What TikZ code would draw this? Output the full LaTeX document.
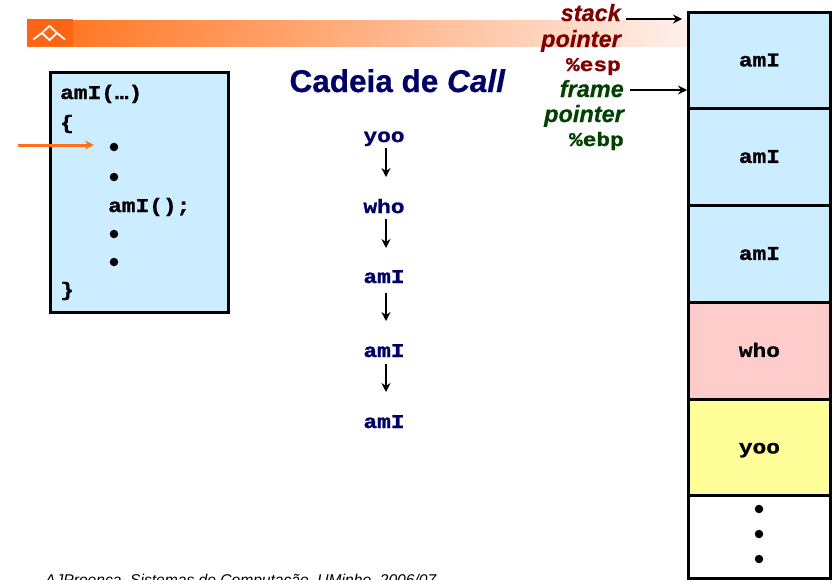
\documentclass[tikz,border=0pt]{standalone}
\usepackage{fontspec}
\setmainfont[BoldFeatures={FakeBold=0.6},BoldItalicFeatures={FakeBold=0.6}]{Liberation Sans}
\setmonofont[BoldFeatures={FakeStretch=1.17,FakeBold=1.2}]{Liberation Mono}
\usepackage{tikz}
\usetikzlibrary{arrows.meta}
\definecolor{boxblue}{RGB}{204,236,255}
\definecolor{boxpink}{RGB}{255,204,204}
\definecolor{boxyellow}{RGB}{255,255,153}
\definecolor{navytext}{RGB}{0,0,102}
\definecolor{sptext}{RGB}{128,0,0}
\definecolor{fptext}{RGB}{0,64,0}
\definecolor{bannerorange}{RGB}{255,112,24}
\definecolor{bannermid}{RGB}{255,165,130}
\definecolor{bannerend}{RGB}{255,240,236}
\definecolor{logoorange}{RGB}{253,100,20}
\tikzset{x=1pt,y=-1pt}
\tikzstyle{frame} = [draw=black,line width=2.8pt,minimum width=142pt,anchor=north west,inner sep=0pt,text height=12pt,text depth=0pt,font=\ttfamily\bfseries\fontsize{19.5}{19.5}\selectfont]
\tikzstyle{code} = [anchor=base west,inner sep=0pt,font=\ttfamily\bfseries\fontsize{19.5}{19.5}\selectfont]
\tikzstyle{call} = [inner sep=0pt,text=navytext,text height=12pt,text depth=0pt,font=\ttfamily\bfseries\fontsize{19.5}{19.5}\selectfont]
\tikzstyle{bullet} = [circle,fill=black,inner sep=0pt,minimum size=8.5pt]
\tikzstyle{regname} = [anchor=base east,inner sep=0pt,font=\bfseries\itshape\fontsize{23.5}{23.5}\selectfont]
\tikzstyle{regcode} = [anchor=base east,inner sep=0pt,font=\ttfamily\bfseries\fontsize{19.5}{19.5}\selectfont]
\tikzstyle{arrow} = [line width=2.2pt,-{Stealth[length=9pt,width=9pt]},black]

\begin{document}
\begin{tikzpicture}
\useasboundingbox (0,0) rectangle (834,579);
\clip (0,0) rectangle (834,579);

% banner
\fill[left color=bannerorange,middle color=bannermid,right color=bannerend] (27,20) rectangle (690,46);
\fill[logoorange] (27,19) rectangle (73,46);
\draw[white,line width=1.8pt] (33.3,39.5) -- (42,33) -- (49.5,26) -- (57,33) -- (65,39.5);
\draw[white,line width=1.8pt] (42,33) -- (49.5,40) -- (57,33);

% stack
\node[frame,fill=boxblue,minimum height=96pt] (frameA) at (687,11) {amI};
\node[frame,fill=boxblue,minimum height=97pt] (frameB) at (687,107) {amI};
\node[frame,fill=boxblue,minimum height=97pt] (frameC) at (687,204) {amI};
\node[frame,fill=boxpink,minimum height=97pt] (frameD) at (687,301) {who};
\node[frame,fill=boxyellow,minimum height=96pt] (frameE) at (687,398) {yoo};
\node[frame,fill=white,minimum height=83pt] (frameF) at (687,494) {};
\node[bullet] (stackdotA) at (759,509) {};
\node[bullet] (stackdotB) at (759,534) {};
\node[bullet] (stackdotC) at (759,559) {};

% registers
\node[regname,text=sptext] (sp) at (621,21) {stack};
\node[regname,text=sptext] at (621,47) {pointer};
\node[regcode,text=sptext] at (621,71) {\%esp};
\node[regname,text=fptext] (fp) at (624,97) {frame};
\node[regname,text=fptext] at (624,122) {pointer};
\node[regcode,text=fptext] at (624,146) {\%ebp};
\coordinate (spend) at (682,19);
\coordinate (fpend) at (687,90);
\draw[arrow] (626,19) -- (spend);
\draw[arrow] (630,90) -- (fpend);

% code box
\node[draw=black,line width=2.8pt,fill=boxblue,minimum width=178pt,minimum height=240pt,anchor=north west,inner sep=0pt] (codebox) at (49,71) {};
\node[code] (linehead) at (60,99) {amI(…)};
\node[code] (lineopen) at (60,129) {\{};
\node[bullet] (dotA) at (114,147) {};
\node[bullet] (dotB) at (114,177) {};
\node[code] (linecall) at (108,212) {amI();};
\node[bullet] (dotC) at (114,234) {};
\node[bullet] (dotD) at (114,262) {};
\node[code] (lineclose) at (60,296) {\}};
\coordinate (pcstart) at (18,145);
\coordinate (pcend) at (94,145);
\draw[bannerorange,line width=3pt,-{Stealth[length=9pt,width=9pt]}] (pcstart) -- (pcend);

% call chain
\node[anchor=base,inner sep=0pt,text=navytext,font=\bfseries\fontsize{31.5}{31.5}\selectfont] (title) at (397.5,92) {Cadeia de \textit{Call}};
\node[call] (yoo) at (384,136) {yoo};
\node[call] (who) at (384,207) {who};
\node[call] (amIa) at (384,277) {amI};
\node[call] (amIb) at (384,351) {amI};
\node[call] (amIc) at (384,422) {amI};
\draw[arrow] (386,148) -- (386,177);
\draw[arrow] (386,219) -- (386,248);
\draw[arrow] (386,293) -- (386,321);
\draw[arrow] (386,364) -- (386,392);

% footer
\node[anchor=base west,inner sep=0pt,font=\itshape\fontsize{15.6}{15.6}\selectfont] (footer) at (45,585) {AJProença, Sistemas de Computação, UMinho, 2006/07};
\end{tikzpicture}
\end{document}
